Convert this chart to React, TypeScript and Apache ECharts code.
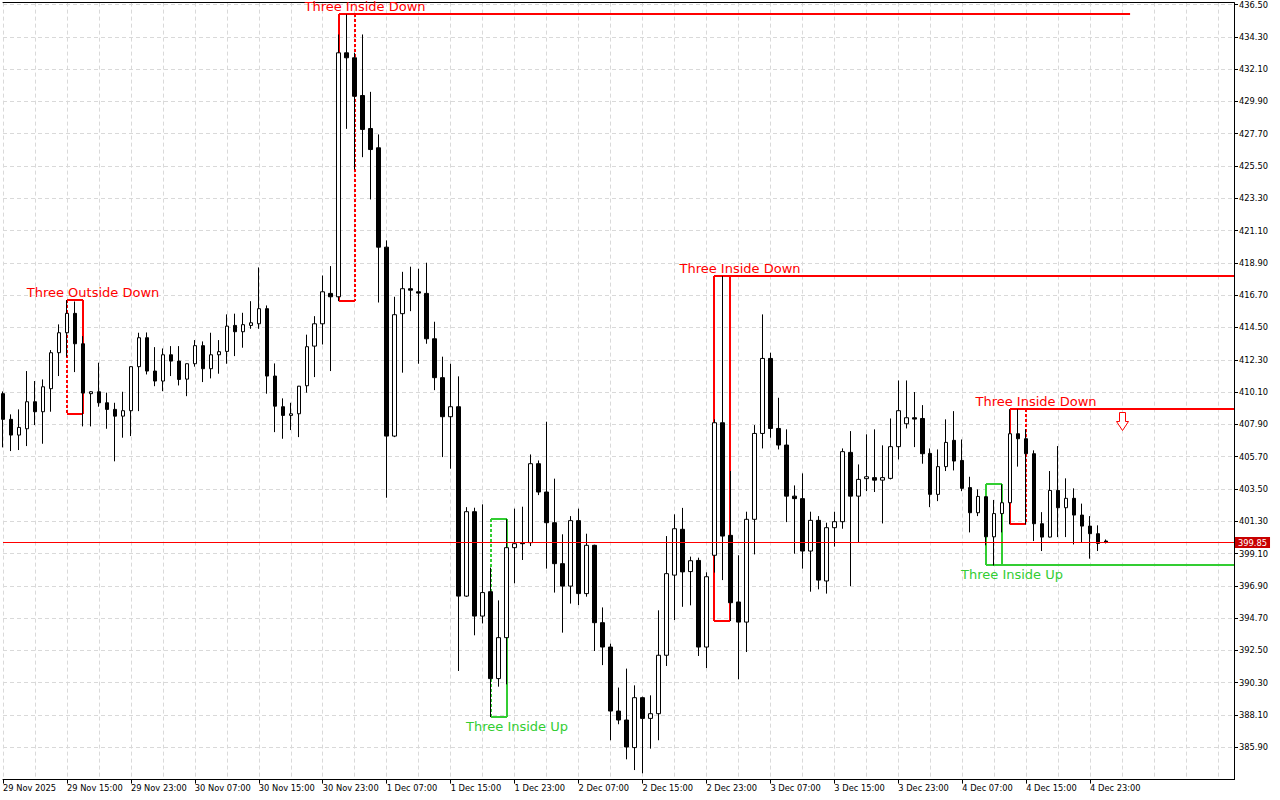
import React, { useEffect, useRef } from "react";
import * as echarts from "echarts";

// Hourly OHLC, bar 0 = 29 Nov 2025 07:00
const opens = [
  409.99, 408.24, 407.17, 407.6, 409.44, 408.76, 410.33, 412.78, 414.14, 415.46,
  413.39, 409.99, 410.12, 409.37, 408.92, 408.46, 408.83, 411.83, 413.8, 411.53,
  410.85, 412.64, 412.21, 410.98, 412.03, 413.26, 411.69, 412.64, 412.87, 414.64,
  414.21, 414.64, 414.75, 415.78, 411.19, 409.1, 408.51, 408.62, 410.53, 413.23,
  414.75, 416.82, 416.59, 433.21, 432.87, 430.3, 428.05, 426.74, 419.97, 407.1,
  415.44, 417.14, 416.93, 416.82, 413.73, 411.08, 408.42, 409.1, 396.2, 401.95,
  394.84, 396.5, 390.58, 393.37, 399.5, 399.84, 399.84, 405.22, 403.29, 401.2,
  398.41, 396.88, 401.34, 396.37, 399.66, 394.39, 392.73, 388.37, 387.76, 385.88,
  389.28, 387.87, 388.19, 392.17, 397.63, 400.75, 397.87, 398.63, 392.73, 398.98,
  408.01, 400.34, 395.8, 394.43, 401.43, 407.28, 412.39, 407.62, 406.49, 403.01,
  402.84, 399.27, 401.36, 397.23, 400.86, 401.27, 405.99, 403.01, 404.2, 404.27,
  404.1, 404.22, 406.38, 407.94, 408.35, 408.3, 405.92, 403.13, 405.02, 406.81,
  405.44, 403.59, 401.88, 402.97, 400.24, 401.82, 402.56, 407.26, 406.92, 405.9,
  401.13, 400.22, 403.4, 402.22, 402.86, 401.72, 400.97, 400.45, 399.95,
];
const highs = [
  410.14, 408.58, 408.92, 411.53, 410.85, 410.96, 412.96, 414.71, 416.36, 416.27,
  413.91, 410.16, 412.1, 410.06, 409.37, 410.12, 411.85, 414.14, 414.16, 413.16,
  413.07, 413.23, 413.23, 412.05, 413.64, 413.55, 414.14, 413.64, 415.39, 415.44,
  415.5, 416.29, 418.59, 416.0, 412.05, 409.67, 409.37, 410.52, 414.01, 415.27,
  418.04, 418.68, 434.46, 435.82, 433.21, 434.46, 430.55, 427.65, 420.43, 416.59,
  418.29, 418.64, 418.5, 418.91, 414.89, 412.51, 412.03, 411.17, 402.26, 402.22,
  402.45, 398.14, 395.91, 401.43, 402.16, 402.29, 405.85, 405.44, 408.08, 404.2,
  400.41, 401.65, 402.16, 400.45, 399.7, 395.43, 392.96, 389.97, 391.26, 390.12,
  389.35, 389.44, 395.23, 400.29, 401.77, 402.21, 398.89, 398.82, 397.82, 408.24,
  418.0, 404.72, 398.98, 401.95, 407.85, 415.39, 412.78, 409.71, 407.56, 403.74,
  404.56, 401.95, 401.65, 401.2, 401.95, 406.26, 407.44, 405.17, 407.22, 407.56,
  406.47, 408.3, 410.89, 410.89, 410.1, 409.21, 406.26, 406.19, 408.24, 408.8,
  406.87, 404.33, 403.47, 403.01, 402.75, 403.81, 408.92, 408.92, 407.56, 406.13,
  401.92, 404.72, 406.42, 404.22, 403.54, 402.5, 401.65, 401.02, 400.06,
];
const lows = [
  406.33, 406.08, 406.15, 406.42, 407.85, 406.58, 408.76, 411.19, 412.51, 411.46,
  407.76, 407.76, 409.1, 407.6, 405.38, 406.99, 407.1, 408.8, 411.3, 410.5,
  410.16, 411.19, 410.55, 409.82, 411.83, 410.78, 411.03, 411.35, 412.03, 412.55,
  413.12, 414.41, 414.41, 409.99, 407.37, 406.92, 407.51, 407.03, 410.06, 411.12,
  413.34, 411.53, 416.29, 428.03, 425.26, 426.1, 423.22, 416.2, 402.9, 407.03,
  411.42, 415.61, 412.03, 413.39, 410.23, 405.67, 404.88, 391.1, 396.15, 393.53,
  394.34, 387.96, 390.03, 390.19, 397.07, 398.66, 399.61, 403.08, 398.07, 396.44,
  393.71, 395.69, 395.59, 396.16, 392.46, 391.5, 386.38, 387.47, 385.08, 384.35,
  384.13, 385.81, 386.38, 391.44, 394.57, 395.47, 395.57, 392.12, 391.3, 397.8,
  397.29, 394.5, 390.53, 392.39, 399.04, 406.26, 406.99, 406.19, 401.24, 399.09,
  398.07, 396.5, 396.66, 396.37, 399.57, 400.79, 396.88, 399.88, 403.35, 403.29,
  401.15, 404.15, 405.51, 407.62, 406.35, 405.22, 402.26, 402.67, 404.72, 404.76,
  403.35, 400.54, 401.65, 399.66, 398.29, 400.54, 401.09, 405.02, 401.09, 399.95,
  399.27, 400.2, 400.22, 400.22, 399.72, 399.84, 398.75, 399.27, 399.79,
];
const closes = [
  408.24, 407.17, 407.69, 409.44, 408.76, 410.46, 412.78, 414.14, 415.46, 413.39,
  410.03, 410.12, 409.37, 408.92, 408.46, 408.83, 411.83, 413.8, 411.53, 410.85,
  412.64, 412.21, 410.96, 412.03, 413.26, 411.69, 412.64, 412.85, 414.59, 414.21,
  414.69, 414.82, 415.78, 411.19, 409.14, 408.51, 408.62, 410.5, 413.19, 414.75,
  416.93, 416.59, 433.21, 432.87, 430.25, 427.99, 426.62, 419.97, 407.1, 415.37,
  417.14, 417.04, 416.84, 413.73, 411.08, 408.42, 409.1, 396.2, 401.95, 394.84,
  396.44, 390.58, 393.37, 399.5, 399.77, 399.77, 405.22, 403.29, 401.2, 398.41,
  396.88, 401.34, 396.37, 399.66, 394.39, 392.73, 388.37, 387.76, 385.92, 389.28,
  387.87, 388.19, 392.17, 397.73, 400.79, 397.85, 398.61, 392.73, 397.52, 408.01,
  400.29, 395.75, 394.43, 401.43, 407.28, 412.39, 407.62, 406.49, 403.01, 402.84,
  399.27, 401.36, 397.29, 400.86, 401.27, 406.04, 403.01, 404.15, 404.33, 404.1,
  404.27, 406.38, 408.83, 408.35, 408.26, 405.9, 403.13, 405.02, 406.67, 405.4,
  403.54, 401.88, 402.99, 400.24, 401.82, 402.56, 407.26, 406.92, 405.9, 401.13,
  400.22, 403.4, 402.22, 402.86, 401.72, 400.97, 400.45, 399.79, 399.85,
];

// time-axis tick labels, one every 8 hourly bars
const xLabels = [
  "29 Nov 2025", "29 Nov 15:00", "29 Nov 23:00", "30 Nov 07:00", "30 Nov 15:00",
  "30 Nov 23:00", "1 Dec 07:00", "1 Dec 15:00", "1 Dec 23:00", "2 Dec 07:00",
  "2 Dec 15:00", "2 Dec 23:00", "3 Dec 07:00", "3 Dec 15:00", "3 Dec 23:00",
  "4 Dec 07:00", "4 Dec 15:00", "4 Dec 23:00",
];

// candlestick pattern annotations
const patternNames = [
  "Three Outside Down", "Three Inside Down", "Three Inside Up",
  "Three Inside Down", "Three Inside Up", "Three Inside Down",
];
const patternDirs = ["down", "down", "up", "down", "up", "down"];
const patternStart = [8, 42, 61, 89, 123, 126];
const patternEnd = [10, 44, 63, 91, 125, 128];
const patternHigh = [416.36, 435.82, 401.47, 418.0, 403.81, 408.92];
const patternLow = [408.62, 416.29, 387.96, 394.5, 398.29, 401.09];
const patternExtendTo = [null, 141, null, 154, 154, 154];
const patternDashedSide = ["left", "right", "left", "none", "none", "right"];

// sell signal arrow
const arrowBar = [140];
const arrowPrice = [408.71];

const N_CATS = 155;
const LAST_LABELLED = 136;

const RED = "#ff0000";
const GREEN = "#32cd32";
const FONT = "DejaVu Sans";

export default function App() {
  const ref = useRef<HTMLDivElement>(null);

  useEffect(() => {
    if (!ref.current) return;
    const chart = echarts.init(ref.current, undefined, { renderer: "svg" });
    const categories = Array.from({ length: N_CATS }, (_, i) => String(i));
    const candles = opens.map((o, i) => [o, closes[i], lows[i], highs[i]]);
    const lastPrice = closes[closes.length - 1];
    const patternData = patternStart.map((s, i) => [s, patternEnd[i], patternHigh[i], patternLow[i]]);

    const gridLine = { color: "#d9d9d9", type: [4, 3] as number[], width: 1 };

    const option: any = {
      animation: false,
      backgroundColor: "#ffffff",
      grid: { left: 2, top: 2.6, width: 1232, height: 777, containLabel: false },
      xAxis: [
        {
          type: "category",
          data: categories,
          boundaryGap: false,
          axisLine: { lineStyle: { color: "#000", width: 1 } },
          axisTick: {
            interval: (i: number) => i % 8 === 0 && i <= LAST_LABELLED,
            length: 4,
            lineStyle: { color: "#000" },
          },
          axisLabel: {
            interval: (i: number) => i % 8 === 0 && i <= LAST_LABELLED,
            formatter: (v: string) => {
              const i = Number(v);
              return i % 8 === 0 && xLabels[i / 8] ? xLabels[i / 8] : "";
            },
            align: "left",
            margin: 4,
            fontSize: 8.3,
            fontFamily: FONT,
            color: "#000",
          },
          splitLine: {
            show: true,
            interval: (i: number) => i % 4 === 0,
            lineStyle: gridLine,
          },
        },
        {
          type: "category",
          data: categories,
          boundaryGap: false,
          position: "top",
          axisLine: { lineStyle: { color: "#000", width: 1 } },
          axisTick: { show: false },
          axisLabel: { show: false },
          splitLine: { show: false },
        },
      ],
      yAxis: {
        type: "value",
        position: "right",
        min: 383.7,
        max: 436.63,
        interval: 2.2,
        axisLine: { show: true, lineStyle: { color: "#000", width: 1 } },
        axisTick: { show: true, length: 4, lineStyle: { color: "#000" } },
        axisLabel: {
          formatter: (v: number) => v.toFixed(2),
          showMinLabel: false,
          showMaxLabel: false,
          margin: 5,
          fontSize: 8.3,
          fontFamily: FONT,
          color: "#000",
        },
        splitLine: { show: true, lineStyle: gridLine },
      },
      series: [
        {
          type: "candlestick",
          data: candles,
          barWidth: 4,
          clip: false,
          silent: true,
          itemStyle: {
            color: "#ffffff",
            color0: "#000000",
            borderColor: "#000000",
            borderColor0: "#000000",
            borderWidth: 1,
          },
          markLine: {
            silent: true,
            symbol: ["none", "none"],
            data: [{ yAxis: lastPrice }],
            lineStyle: { color: "#ff0000", width: 1, type: "solid" },
            label: {
              show: true,
              position: "end",
              distance: 1,
              formatter: lastPrice.toFixed(2),
              color: "#ffffff",
              backgroundColor: "#c80000",
              padding: [2, 3, 1, 3],
              fontSize: 8.3,
              fontFamily: FONT,
            },
          },
        },
        {
          type: "custom",
          data: patternData,
          clip: false,
          silent: true,
          encode: { x: [0, 1], y: [2, 3] },
          renderItem: (params: any, api: any) => {
            const k = params.dataIndex;
            const p1 = api.coord([api.value(0), api.value(2)]);
            const p2 = api.coord([api.value(1), api.value(3)]);
            const x1 = Math.round(p1[0]);
            const x2 = Math.round(p2[0]);
            const yt = Math.round(p1[1]);
            const yb = Math.round(p2[1]);
            const up = patternDirs[k] === "up";
            const color = up ? GREEN : RED;
            const base: any = { stroke: color, lineWidth: 2, fill: null };
            const dashed: any = { ...base, lineDash: [3, 2] };
            const side = patternDashedSide[k];
            const children: any[] = [
              { type: "line", shape: { x1, y1: yt, x2, y2: yt }, style: base },
              { type: "line", shape: { x1, y1: yb, x2, y2: yb }, style: base },
              { type: "line", shape: { x1, y1: yt, x2: x1, y2: yb }, style: side === "left" ? dashed : base },
              { type: "line", shape: { x1: x2, y1: yt, x2, y2: yb }, style: side === "right" ? dashed : base },
            ];
            const ext = patternExtendTo[k];
            if (ext != null) {
              const pe = api.coord([ext, up ? api.value(3) : api.value(2)]);
              const ye = Math.round(pe[1]);
              children.push({ type: "line", shape: { x1: x2, y1: ye, x2: pe[0], y2: ye }, style: base });
            }
            children.push({
              type: "text",
              x: x1 + 26,
              y: up ? yb + 9 : yt - 8,
              style: {
                text: patternNames[k],
                fill: color,
                fontSize: 13,
                fontFamily: FONT,
                align: "center",
                verticalAlign: "middle",
              },
            });
            return { type: "group", children };
          },
        },
        {
          type: "custom",
          data: arrowBar.map((b, i) => [b, arrowPrice[i]]),
          clip: false,
          silent: true,
          renderItem: (_params: any, api: any) => {
            const p = api.coord([api.value(0), api.value(1)]);
            const cx = Math.round(p[0]) + 0.5;
            const yt = Math.round(p[1]) + 0.5;
            return {
              type: "polygon",
              shape: {
                points: [
                  [cx - 3, yt], [cx + 3, yt], [cx + 3, yt + 9], [cx + 6, yt + 9],
                  [cx, yt + 18], [cx - 6, yt + 9], [cx - 3, yt + 9],
                ],
              },
              style: { stroke: RED, fill: "#ffffff", lineWidth: 1 },
            };
          },
        },
      ],
    };

    chart.setOption(option);
    return () => chart.dispose();
  }, []);

  return (
    <div
      ref={ref}
      style={{ position: "absolute", left: 0, top: 0, width: 1280, height: 800, background: "#fff" }}
    />
  );
}
